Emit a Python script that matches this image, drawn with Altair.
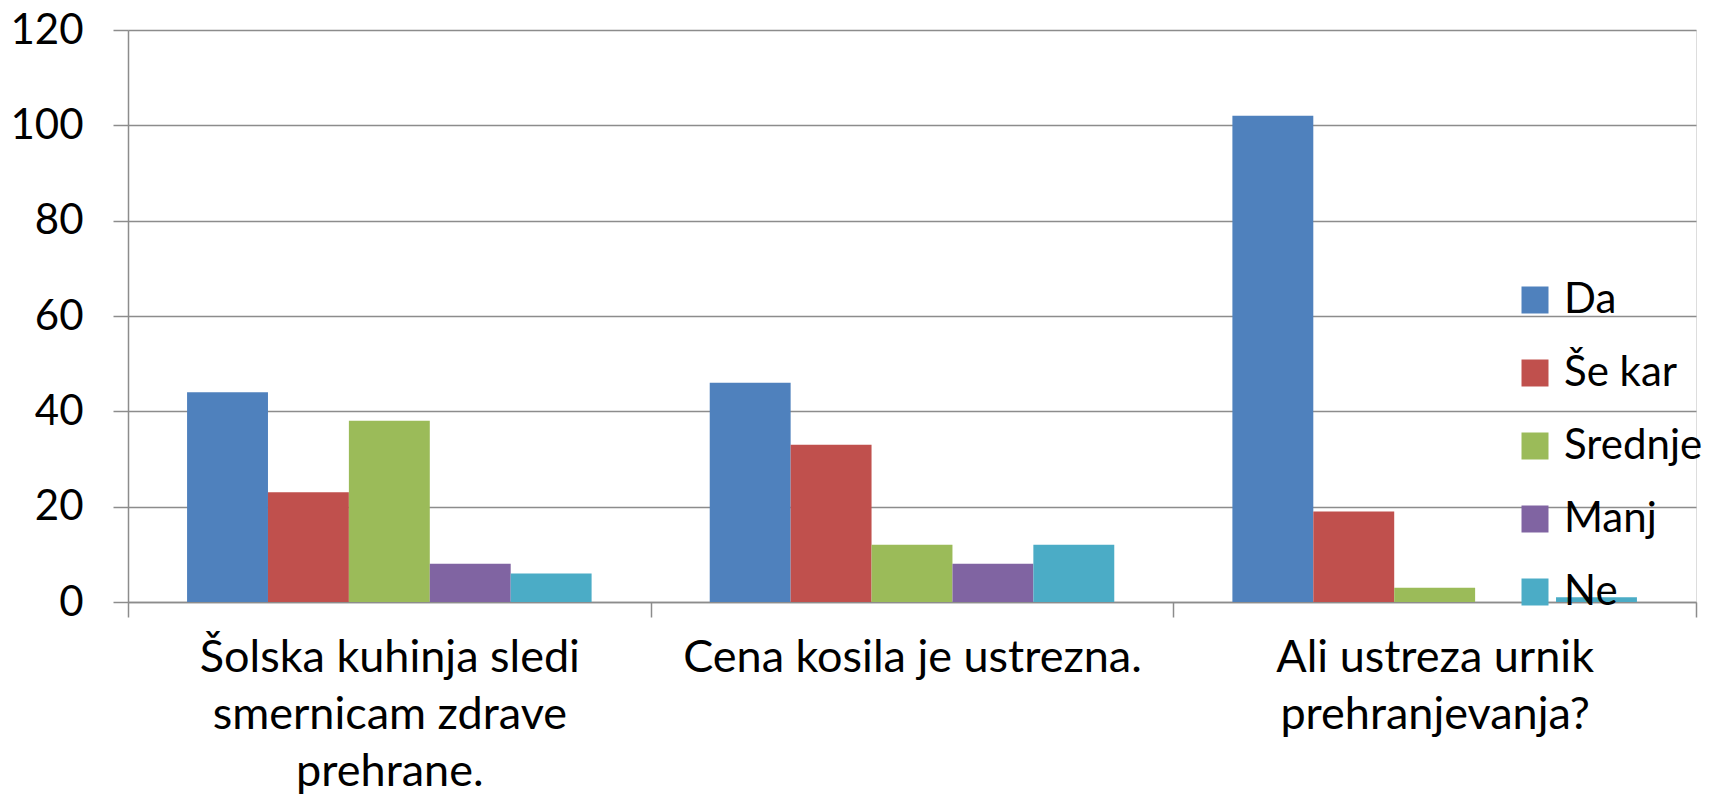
import altair as alt
import pandas as pd

questions = [
    "Šolska kuhinja sledi\nsmernicam zdrave\nprehrane.",
    "Cena kosila je ustrezna.",
    "Ali ustreza urnik\nprehranjevanja?",
]
answers = ["Da", "Še kar", "Srednje", "Manj", "Ne"]
colors = ["#4F81BD", "#C0504D", "#9BBB59", "#8064A2", "#4BACC6"]

da = [44, 46, 102]
se_kar = [23, 33, 19]
srednje = [38, 12, 3]
manj = [8, 8, 0]
ne = [6, 12, 1]

series = [da, se_kar, srednje, manj, ne]
rows = []
for ans, vals in zip(answers, series):
    for q, v in zip(questions, vals):
        rows.append({"question": q, "answer": ans, "value": v})
df = pd.DataFrame(rows)

FONT = "Lato"
GRAY = "#8c8c8c"

chart = (
    alt.Chart(df)
    .mark_bar()
    .encode(
        x=alt.X(
            "question:N",
            sort=questions,
            scale=alt.Scale(paddingInner=0, paddingOuter=0),
            axis=alt.Axis(
                title=None,
                labelAngle=0,
                tickBand="extent",
                tickSize=15,
                tickColor=GRAY,
                tickWidth=1.5,
                domainColor=GRAY,
                domainWidth=1.5,
                labelFont=FONT,
                labelFontSize=45,
                labelColor="#000000",
                labelPadding=18,
                labelBaseline="top",
                labelLineHeight=57,
                labelLimit=0,
                labelExpr="split(datum.label, '\\n')",
            ),
        ),
        xOffset=alt.XOffset(
            "answer:N", sort=answers, scale=alt.Scale(paddingInner=0, paddingOuter=0.73)
        ),
        y=alt.Y(
            "value:Q",
            scale=alt.Scale(domain=[0, 120]),
            axis=alt.Axis(
                title=None,
                values=[0, 20, 40, 60, 80, 100, 120],
                tickSize=15,
                tickColor=GRAY,
                tickWidth=1.5,
                domainColor=GRAY,
                domainWidth=1.5,
                gridColor=GRAY,
                gridWidth=1.5,
                labelFont=FONT,
                labelFontSize=42,
                labelColor="#000000",
                labelPadding=30,
            ),
        ),
        color=alt.Color(
            "answer:N",
            sort=answers,
            scale=alt.Scale(domain=answers, range=colors),
            legend=alt.Legend(
                title=None,
                orient="none",
                legendX=1386,
                legendY=249,
                padding=0,
                symbolType="square",
                symbolSize=729,
                symbolStrokeWidth=0,
                labelFont=FONT,
                labelFontSize=42,
                labelColor="#000000",
                labelOffset=8,
                rowPadding=31,
                labelLimit=400,
            ),
        ),
    )
    .properties(
        width=1568,
        height=572,
        padding={"left": 120, "top": 22, "right": 8, "bottom": 194},
        autosize=alt.AutoSizeParams(type="none"),
    )
    .configure_view(strokeWidth=0)
    .configure(background="#ffffff")
)

chart.save("out.html", embed_options={"renderer": "svg", "actions": False})
